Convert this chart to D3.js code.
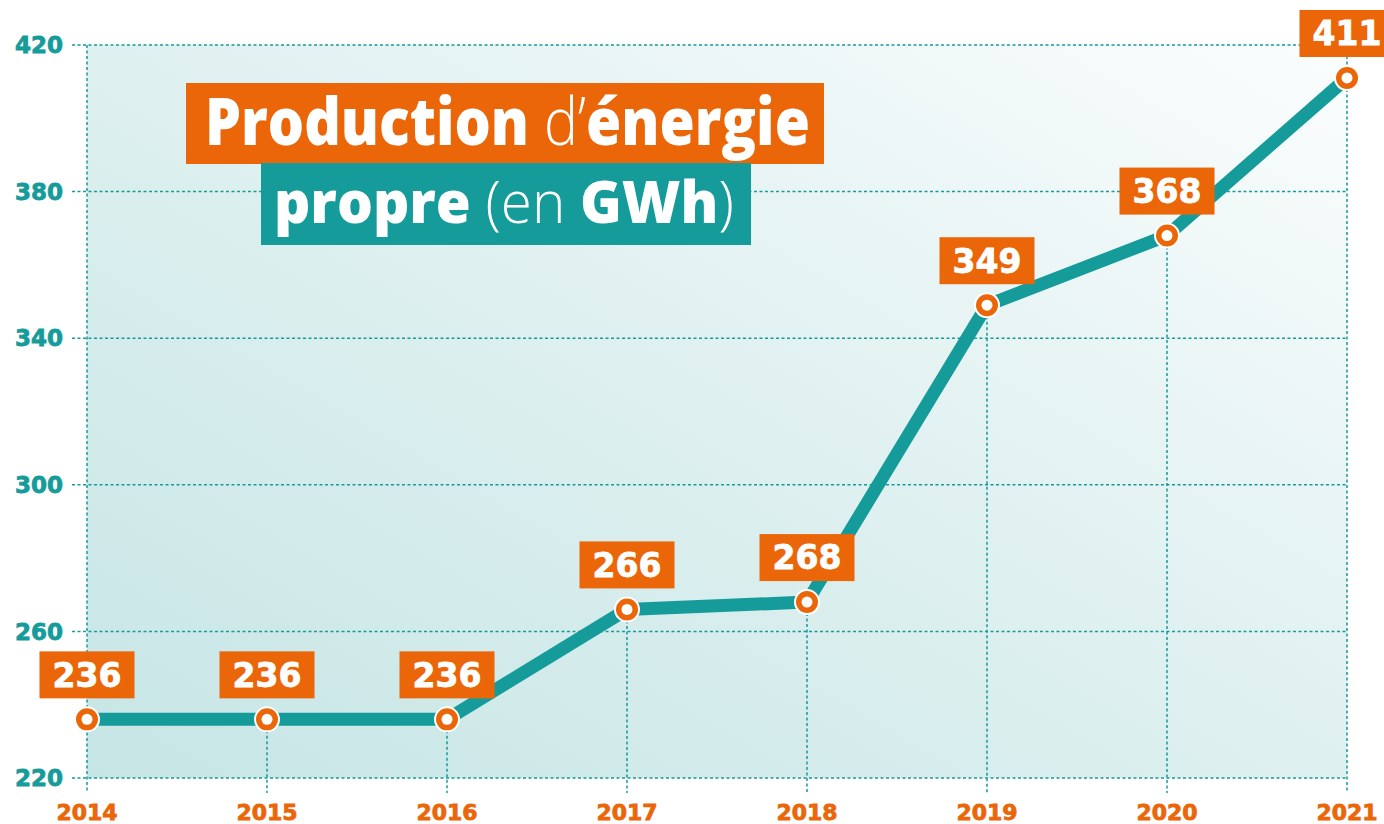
<!DOCTYPE html>
<html>
<head>
<meta charset="utf-8">
<script src="https://cdn.jsdelivr.net/npm/d3@7"></script>
<style>
  body { margin: 0; background: #fff; }
  svg { display: block; }
</style>
</head>
<body>
<div id="grafica"></div>
<script>
// datos
annees  = [2014, 2015, 2016, 2017, 2018, 2019, 2020, 2021]
valeurs = [236, 236, 236, 266, 268, 349, 368, 411]
yTicks  = [220, 260, 300, 340, 380, 420]

ancho_total = 1384
alto_total  = 824
margin = { left: 87, right: 37, top: 45, bottom: 46 }

ancho = ancho_total - margin.left - margin.right
alto  = alto_total - margin.top - margin.bottom

teal   = '#169b9b'
orange = '#ea6608'
fuente = 'DejaVu Sans, sans-serif'
fuente_titulo = 'Open Sans, Roboto, sans-serif'

svg = d3
        .select('#grafica')
        .append('svg')
        .attr('width', ancho_total)
        .attr('height', alto_total)

defs = svg.append('defs')
grad = defs
        .append('linearGradient')
        .attr('id', 'fondo')
        .attr('x1', 0).attr('y1', 1)
        .attr('x2', 1).attr('y2', 0)
grad.append('stop').attr('offset', '0%').attr('stop-color', '#c6e5e5')
grad.append('stop').attr('offset', '55%').attr('stop-color', '#e1f1f1')
grad.append('stop').attr('offset', '100%').attr('stop-color', '#fbfdfd')

g = svg
      .append('g')
      .attr('transform', 'translate(' + margin.left + ',' + margin.top + ')')

x = d3.scaleLinear()
      .domain([2014, 2021])
      .range([0, ancho])
y = d3.scaleLinear()
      .domain([220, 420])
      .range([alto, 0])

g.append('rect')
  .attr('x', 0)
  .attr('y', 0)
  .attr('width', ancho)
  .attr('height', alto)
  .attr('fill', 'url(#fondo)')

// grilla horizontal
g.selectAll('.hgrid')
  .data(yTicks)
  .enter()
  .append('line')
    .attr('x1', -15)
    .attr('x2', ancho)
    .attr('y1', (d) => y(d))
    .attr('y2', (d) => y(d))
    .attr('stroke', teal)
    .attr('stroke-width', 1.5)
    .attr('stroke-dasharray', '3,2.5')

// bordes verticales
;[2014, 2021].forEach((a) => {
  g.append('line')
    .attr('x1', x(a)).attr('x2', x(a))
    .attr('y1', 0).attr('y2', alto + 15)
    .attr('stroke', teal)
    .attr('stroke-width', 1.5)
    .attr('stroke-dasharray', '3,2.5')
})

// guias desde cada punto
g.selectAll('.vgrid')
  .data(annees.slice(1, -1))
  .enter()
  .append('line')
    .attr('x1', (d) => x(d))
    .attr('x2', (d) => x(d))
    .attr('y1', (d, i) => y(valeurs[i + 1]))
    .attr('y2', alto + 15)
    .attr('stroke', teal)
    .attr('stroke-width', 1.5)
    .attr('stroke-dasharray', '3,2.5')

// ejes
yAxis = g.append('g')
yAxis.selectAll('text')
  .data(yTicks)
  .enter()
  .append('text')
    .attr('x', -24)
    .attr('y', (d) => y(d))
    .attr('dy', '0.36em')
    .attr('text-anchor', 'end')
    .attr('font-family', fuente)
    .attr('font-weight', 'bold')
    .attr('font-size', '23px')
    .attr('fill', teal)
    .attr('stroke', teal)
    .attr('stroke-width', 0.8)
    .text((d) => d)

xAxis = g.append('g')
xAxis.selectAll('text')
  .data(annees)
  .enter()
  .append('text')
    .attr('x', (d) => x(d))
    .attr('y', alto + 42)
    .attr('text-anchor', 'middle')
    .attr('font-family', fuente)
    .attr('font-weight', 'bold')
    .attr('font-size', '22px')
    .attr('fill', orange)
    .attr('stroke', orange)
    .attr('stroke-width', 0.8)
    .text((d) => d)

// linea
datos = annees.map((a, i) => ({ annee: a, valeur: valeurs[i] }))

linea = d3.line()
          .x((d) => x(d.annee))
          .y((d) => y(d.valeur))

g.append('path')
  .datum(datos)
  .attr('d', linea)
  .attr('fill', 'none')
  .attr('stroke', teal)
  .attr('stroke-width', 13)
  .attr('stroke-linejoin', 'round')

// puntos
puntos = g.selectAll('.punto')
          .data(datos)
          .enter()
          .append('g')
          .attr('transform', (d) => `translate(${x(d.annee)}, ${y(d.valeur)})`)

puntos.append('circle')
  .attr('r', 12)
  .attr('fill', orange)
  .attr('stroke', '#fff')
  .attr('stroke-width', 2)
puntos.append('circle')
  .attr('r', 5.5)
  .attr('fill', '#fff')

// etiquetas
ancho_et = 95
alto_et  = 47
puntos.append('rect')
  .attr('x', -ancho_et / 2)
  .attr('y', -21 - alto_et)
  .attr('width', ancho_et)
  .attr('height', alto_et)
  .attr('fill', orange)
puntos.append('text')
  .attr('x', 0)
  .attr('y', -21 - alto_et / 2)
  .attr('dy', '0.36em')
  .attr('text-anchor', 'middle')
  .attr('font-family', fuente)
  .attr('font-weight', 'bold')
  .attr('font-size', '33px')
  .attr('fill', '#fff')
  .attr('stroke', '#fff')
  .attr('stroke-width', 0.8)
  .text((d) => d.valeur)

// titulo
titulo = svg.append('g')
titulo.append('rect')
  .attr('x', 186).attr('y', 83)
  .attr('width', 638).attr('height', 81)
  .attr('fill', orange)
titulo.append('rect')
  .attr('x', 261).attr('y', 163)
  .attr('width', 490).attr('height', 82)
  .attr('fill', teal)

// cada renglon se comprime para caber en su ancho
function renglon(partes, x0, y0, tam, ancho_obj) {
  gr = titulo.append('g')
  t = gr.append('text')
        .attr('x', 0).attr('y', 0)
        .attr('font-family', fuente_titulo)
        .attr('font-size', tam + 'px')
        .attr('fill', '#fff')
  partes.forEach((p) => {
    t.append('tspan').attr('font-weight', p[1]).text(p[0])
  })
  sx = ancho_obj / t.node().getComputedTextLength()
  gr.attr('transform', `translate(${x0}, ${y0}) scale(${sx}, 1)`)
}

renglon([['Production ', 800], ['d’', 300], ['énergie', 800]], 205, 145, 66, 605)
renglon([['propre ', 800], ['(en ', 300], ['GWh', 800], [')', 300]], 274, 223, 58, 460)
</script>
</body>
</html>
